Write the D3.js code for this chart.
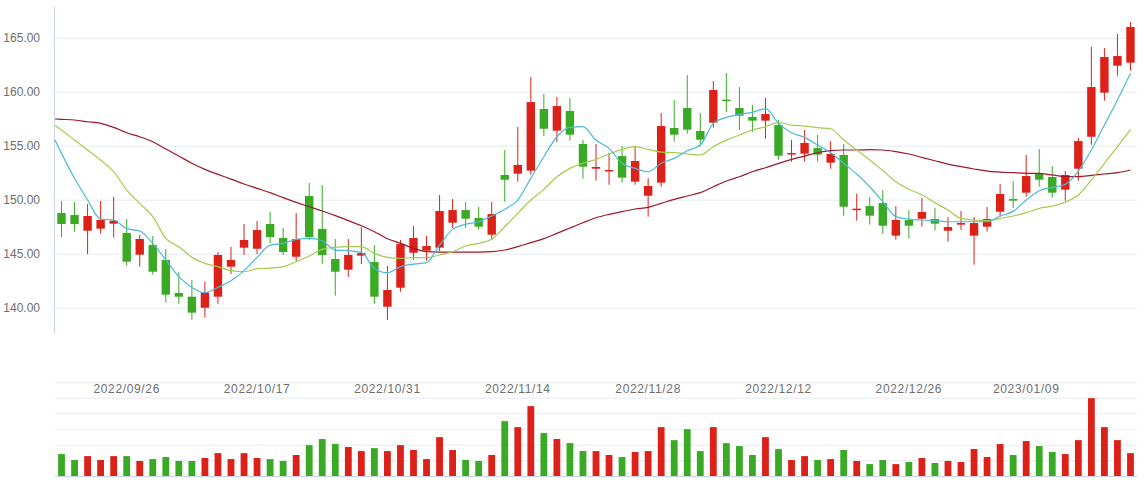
<!DOCTYPE html>
<html>
<head>
<meta charset="utf-8">
<script src="https://cdn.jsdelivr.net/npm/d3@7"></script>
<style>
  html, body { margin: 0; padding: 0; background: #fff; }
  svg { display: block; font-family: "Liberation Sans", Arial, sans-serif; }
</style>
</head>
<body>
<div id="chart"></div>
<script>
// trading days shown in the window
const dates = [
  "2022/09/19","2022/09/20","2022/09/21","2022/09/22","2022/09/23",
  "2022/09/26","2022/09/27","2022/09/28","2022/09/29","2022/09/30",
  "2022/10/10","2022/10/11","2022/10/12","2022/10/13","2022/10/14",
  "2022/10/17","2022/10/18","2022/10/19","2022/10/20","2022/10/21",
  "2022/10/24","2022/10/25","2022/10/26","2022/10/27","2022/10/28",
  "2022/10/31","2022/11/01","2022/11/02","2022/11/03","2022/11/04",
  "2022/11/07","2022/11/08","2022/11/09","2022/11/10","2022/11/11",
  "2022/11/14","2022/11/15","2022/11/16","2022/11/17","2022/11/18",
  "2022/11/21","2022/11/22","2022/11/23","2022/11/24","2022/11/25",
  "2022/11/28","2022/11/29","2022/11/30","2022/12/01","2022/12/02",
  "2022/12/05","2022/12/06","2022/12/07","2022/12/08","2022/12/09",
  "2022/12/12","2022/12/13","2022/12/14","2022/12/15","2022/12/16",
  "2022/12/19","2022/12/20","2022/12/21","2022/12/22","2022/12/23",
  "2022/12/26","2022/12/27","2022/12/28","2022/12/29","2022/12/30",
  "2023/01/03","2023/01/04","2023/01/05","2023/01/06",
  "2023/01/09","2023/01/10","2023/01/11","2023/01/12","2023/01/13",
  "2023/01/16","2023/01/17","2023/01/18","2023/01/19"
];

const open = [
  148.77,148.58,147.13,147.32,147.78,146.92,144.91,145.80,144.42,141.36,
  141.02,140.00,141.02,143.80,145.56,145.46,147.75,146.45,144.72,150.34,
  147.29,144.51,143.52,144.82,144.23,140.09,141.85,145.09,145.28,145.56,
  147.87,149.04,148.30,146.76,152.29,152.41,152.69,158.40,156.39,158.21,
  155.16,152.87,152.63,154.04,151.67,150.37,151.58,156.64,158.49,156.36,
  157.13,159.27,158.49,157.66,157.32,156.91,154.26,154.26,154.78,153.43,
  154.14,149.10,149.41,149.69,146.67,148.12,148.24,148.21,147.13,147.69,
  146.67,147.50,148.89,150.06,150.65,152.41,152.10,150.93,152.87,155.83,
  159.91,162.41,162.69
];
const close = [
  147.75,147.75,148.49,148.12,148.06,144.26,146.36,143.33,141.21,141.02,
  139.54,141.42,144.88,144.42,146.27,147.19,146.54,145.16,146.36,146.54,
  144.88,143.33,144.88,145.06,141.02,141.64,145.89,146.45,145.71,148.95,
  149.04,148.24,147.50,148.67,151.85,153.21,159.04,156.57,158.67,156.02,
  153.06,153.03,152.75,152.04,153.58,151.27,156.82,156.02,156.48,155.56,
  160.15,159.20,157.78,157.32,157.93,154.07,154.32,155.25,154.17,154.23,
  149.35,149.17,148.52,147.59,148.12,147.59,148.86,147.78,147.47,147.84,
  147.84,148.21,150.53,149.91,152.19,151.85,150.65,152.29,155.43,160.43,
  163.21,163.30,165.99
];
const high = [
  149.88,149.79,149.60,149.88,150.25,148.21,146.73,146.64,145.43,143.33,
  142.56,142.41,145.16,145.62,147.75,148.03,148.86,147.38,148.77,151.55,
  151.36,146.36,146.36,147.47,145.80,143.86,146.27,147.56,146.64,150.43,
  150.06,149.79,149.32,149.79,154.60,156.73,161.36,159.79,159.51,159.42,
  155.53,155.16,154.32,154.97,154.97,152.00,158.03,159.23,161.54,158.03,
  160.99,161.73,160.43,158.77,159.42,157.38,155.53,156.45,155.99,155.43,
  155.16,150.53,150.25,150.90,149.41,149.04,150.16,149.23,148.40,148.95,
  148.40,149.32,151.45,151.73,154.14,154.69,153.12,152.66,155.71,164.14,
  164.04,165.34,166.45
];
const low = [
  146.54,147.04,144.97,146.85,146.48,143.89,143.80,143.06,140.46,140.37,
  138.89,139.08,140.37,143.12,144.88,144.97,145.99,144.88,144.32,146.27,
  144.07,141.11,142.87,144.04,140.37,138.86,141.48,144.42,144.35,145.25,
  147.38,147.38,147.22,146.33,149.82,151.67,152.32,155.90,155.34,155.46,
  151.95,151.76,151.39,151.58,151.39,148.43,151.20,155.37,156.11,154.91,
  156.67,158.12,156.45,156.27,155.65,153.70,153.52,153.52,153.52,152.87,
  148.52,148.06,147.69,146.85,146.30,146.39,147.50,147.13,146.11,147.22,
  143.98,147.04,148.43,149.23,150.28,151.20,150.19,149.91,151.76,155.09,
  159.17,161.48,161.95
];

// volume, in units of one grid step
const volume = [
  1.40,1.02,1.27,1.02,1.27,1.27,0.96,1.08,1.21,0.96,
  0.96,1.15,1.46,1.08,1.46,1.15,1.08,0.96,1.34,1.97,
  2.36,2.04,1.85,1.59,1.78,1.59,1.97,1.66,1.08,2.48,
  1.66,1.02,0.96,1.34,3.50,3.12,4.46,2.74,2.36,2.10,
  1.59,1.59,1.34,1.21,1.53,1.59,3.12,2.29,2.99,1.59,
  3.12,2.10,1.91,1.34,2.48,1.72,1.02,1.27,1.02,1.08,
  1.66,0.96,0.76,1.02,0.76,0.89,1.15,0.83,0.96,0.89,
  1.72,1.21,2.04,1.34,2.23,1.91,1.53,1.40,2.29,4.97,
  3.12,2.29,1.46
];

// moving averages as plotted
const ma5 = [
  154.29,151.98,149.97,148.21,148.12,147.32,147.10,145.96,144.42,142.87,
  141.88,141.39,141.88,142.50,143.43,144.66,145.80,145.96,146.33,146.42,
  146.20,145.34,145.28,145.12,143.64,143.24,143.80,144.04,144.17,145.80,
  147.25,147.72,147.96,148.49,149.11,149.97,151.98,153.98,155.83,156.70,
  156.76,155.52,154.75,153.37,152.90,152.59,153.37,153.83,154.54,155.06,
  157.07,157.62,157.90,158.09,158.43,157.07,156.20,155.77,155.06,154.35,
  153.37,152.38,151.20,149.82,148.43,148.21,148.12,148.06,147.96,147.96,
  147.96,147.96,148.49,148.92,149.97,150.83,151.14,151.42,152.65,154.60,
  156.91,159.23,161.70
];
const ma10 = [
  156.45,155.52,154.60,153.67,152.59,150.90,149.66,148.43,146.42,145.65,
  144.66,144.10,143.80,143.43,143.33,143.61,143.67,143.80,144.26,144.78,
  145.40,145.59,145.65,145.65,145.03,144.66,144.57,144.63,144.63,144.88,
  145.19,145.71,145.96,146.33,147.50,148.74,149.97,150.96,152.13,152.90,
  153.37,153.73,154.23,154.66,154.91,154.66,154.41,154.35,154.23,154.14,
  154.91,155.52,155.99,156.45,156.76,157.13,156.91,156.82,156.67,156.57,
  155.52,154.60,153.67,152.69,151.67,150.96,150.46,149.72,149.04,148.27,
  148.12,148.06,148.27,148.49,148.80,149.20,149.41,149.78,150.43,151.82,
  153.37,154.91,156.51
];
const ma30 = [
  157.44,157.38,157.22,157.07,156.70,156.20,155.83,155.37,154.69,154.04,
  153.37,152.81,152.35,151.91,151.45,151.05,150.65,150.19,149.75,149.35,
  148.95,148.52,148.06,147.59,147.04,146.39,145.96,145.49,145.19,145.15,
  145.15,145.15,145.15,145.19,145.34,145.65,146.02,146.39,146.88,147.38,
  147.87,148.33,148.64,148.89,149.14,149.29,149.66,150.03,150.34,150.65,
  151.20,151.73,152.13,152.59,152.96,153.37,153.73,154.04,154.35,154.54,
  154.60,154.60,154.63,154.60,154.45,154.23,153.92,153.61,153.30,153.06,
  152.84,152.65,152.56,152.50,152.44,152.44,152.29,152.13,152.13,152.25,
  152.38,152.50,152.75
];
// where each average line enters at the left edge of the plot
const maEdge = { ma5: 155.52, ma10: 156.88, ma30: 157.47 };

const priceTicks = [140, 145, 150, 155, 160, 165];
const tickDates = ["2022/09/26","2022/10/17","2022/10/31","2022/11/14",
                   "2022/11/28","2022/12/12","2022/12/26","2023/01/09"];

const upColor = "#dc2118";
const downColor = "#3aaa24";

const width = 1144;
const height = 480;

const svg = d3.select("#chart")
  .append("svg")
  .attr("width", width)
  .attr("height", height);

// scales
const x = d3.scaleBand()
  .domain(dates)
  .range([55, 1137])
  .paddingInner(0)
  .paddingOuter(0);

const y = d3.scaleLinear()
  .domain([137.63, 167.87])
  .range([333.3, 6.7]);

const yVol = d3.scaleLinear()
  .domain([0, 6])
  .range([476, 382]);

const cx = d => x(d) + x.bandwidth() / 2;

// price grid + axis
const yAxis = svg.append("g")
  .attr("transform", "translate(55,0)")
  .call(d3.axisLeft(y)
    .tickValues(priceTicks)
    .tickFormat(d3.format(".2f"))
    .tickSizeInner(-(1137 - 55))
    .tickSizeOuter(0)
    .tickPadding(15));
yAxis.select(".domain").remove();
yAxis.selectAll(".tick line").attr("stroke", "#eef1f5").attr("stroke-width", 1.5);
yAxis.selectAll(".tick text")
  .attr("fill", "#6e6e6e")
  .style("font-size", "12px");

svg.append("line")
  .attr("x1", 54.5).attr("x2", 54.5)
  .attr("y1", 6.7).attr("y2", 333.3)
  .attr("stroke", "#c9d5ea");

// volume grid
const volGrid = svg.append("g")
  .attr("transform", "translate(55,0)")
  .call(d3.axisLeft(yVol)
    .ticks(6)
    .tickFormat("")
    .tickSizeInner(-(1137 - 55))
    .tickSizeOuter(0));
volGrid.select(".domain").remove();
volGrid.selectAll(".tick line").attr("stroke", "#eef1f5").attr("stroke-width", 1.5);

svg.append("line")
  .attr("x1", 55).attr("x2", 1137)
  .attr("y1", 476.5).attr("y2", 476.5)
  .attr("stroke", "#c9d5ea");

// date labels
const xAxis = svg.append("g")
  .attr("transform", "translate(0,393)")
  .call(d3.axisBottom(x)
    .tickValues(tickDates)
    .tickSize(0)
    .tickPadding(0));
xAxis.select(".domain").remove();
xAxis.selectAll(".tick text")
  .attr("fill", "#6e6e6e")
  .attr("dy", 0)
  .style("font-size", "12px")
  .style("letter-spacing", "0.65px");

// candles
const candleW = 8.4;
const candles = svg.append("g")
  .selectAll("g")
  .data(dates.map((d, i) => ({ date: d, o: open[i], c: close[i], h: high[i], l: low[i] })))
  .join("g")
  .attr("fill", d => d.c >= d.o ? upColor : downColor)
  .attr("stroke", d => d.c >= d.o ? upColor : downColor);

candles.append("line")
  .attr("x1", d => cx(d.date)).attr("x2", d => cx(d.date))
  .attr("y1", d => y(d.h)).attr("y2", d => y(d.l))
  .attr("stroke-width", 1);

candles.append("rect")
  .attr("stroke", "none")
  .attr("x", d => cx(d.date) - candleW / 2)
  .attr("width", candleW)
  .attr("y", d => Math.min(y(d.o), y(d.c)))
  .attr("height", d => Math.max(1.5, Math.abs(y(d.o) - y(d.c))));

// moving average lines, starting from the plot's left edge
const maLine = d3.line()
  .x(d => d[0])
  .y(d => y(d[1]))
  .curve(d3.curveMonotoneX);

const maPoints = (vals, edge) =>
  [[x.range()[0], edge]].concat(vals.map((v, i) => [cx(dates[i]), v]));

[[ma30, maEdge.ma30, "#9c1a2a"], [ma10, maEdge.ma10, "#a4cc50"], [ma5, maEdge.ma5, "#4cbad8"]]
  .forEach(([vals, edge, color]) => {
    svg.append("path")
      .attr("d", maLine(maPoints(vals, edge)))
      .attr("fill", "none")
      .attr("stroke", color)
      .attr("stroke-width", 1.2);
  });

// volume bars
const volW = 6.8;
svg.append("g")
  .selectAll("rect")
  .data(volume)
  .join("rect")
  .attr("x", (d, i) => cx(dates[i]) - volW / 2)
  .attr("width", volW)
  .attr("y", d => yVol(d))
  .attr("height", d => yVol(0) - yVol(d))
  .attr("fill", (d, i) => close[i] >= open[i] ? upColor : downColor);
</script>
</body>
</html>
